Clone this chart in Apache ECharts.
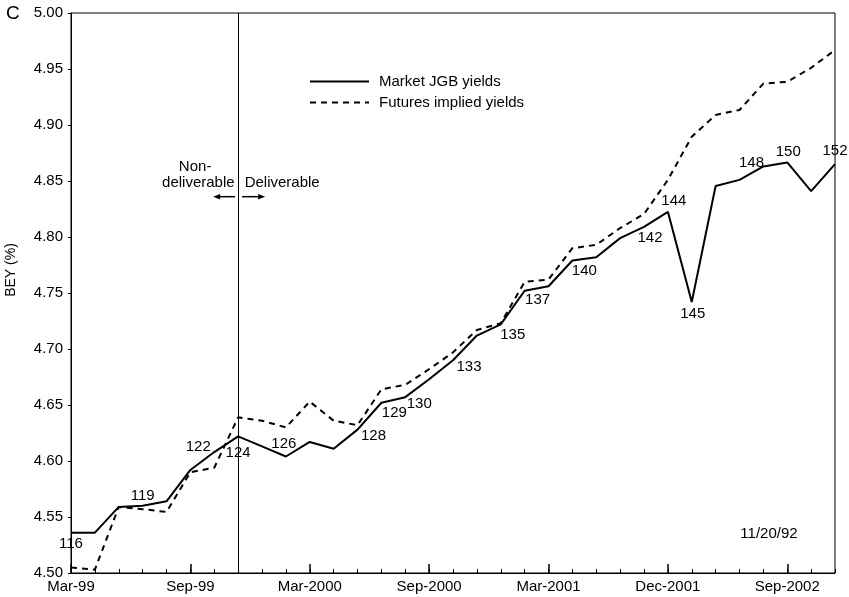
<!DOCTYPE html>
<html><head><meta charset="utf-8">
<script src="https://cdn.jsdelivr.net/npm/echarts@6/dist/echarts.min.js"></script>
<style>html,body{margin:0;padding:0;background:#fff}#c{width:849px;height:597px}</style>
</head><body><div id="c"></div>
<script>
// ---- data ----
const xLabels = ['Mar-99','','','','','Sep-99','','','','','Mar-2000','','','','','Sep-2000','','','','','Mar-2001','','','','','Dec-2001','','','','','Sep-2002','',''];
const marketYields = [4.536,4.536,4.559,4.560,4.564,4.592,4.608,4.622,4.613,4.604,4.617,4.611,4.628,4.652,4.657,4.673,4.690,4.712,4.722,4.752,4.756,4.779,4.782,4.799,4.809,4.8225,4.742,4.8455,4.851,4.863,4.8666,4.841,4.865];
const futuresYields = [4.505,4.503,4.559,4.557,4.5545,4.590,4.594,4.639,4.636,4.630,4.653,4.636,4.632,4.664,4.668,4.682,4.697,4.717,4.723,4.760,4.762,4.790,4.793,4.808,4.8205,4.851,4.8895,4.909,4.9134,4.937,4.9386,4.951,4.967];
const bondIndex = [0,3,6,7,9,12,13,14,16,18,19,21,24,25,26,28,30,32];
const bondLabels = ['116','119','122','124','126','128','129','130','133','135','137','140','142','144','145','148','150','152'];
const seriesNames = ['Market JGB yields','Futures implied yields'];
const yMin = 4.50, yMax = 5.00, yStep = 0.05;
const deliveryIndex = 7;

// ---- styles ----
const labelOffsets = [[0,11],[0,-10],[-16,-5],[0,16],[-2,-13],[16,6],[13,10],[14,7],[16,7],[12,10],[13,9],[12,10],[6,11],[6,-11],[1,12],[12,-17],[1,-11],[0,-13]];
const FONT = '"Liberation Sans", Arial, Helvetica, sans-serif';

const chart = echarts.init(document.getElementById('c'), null, {renderer:'canvas'});

const marketData = marketYields.map((v, i) => {
  const j = bondIndex.indexOf(i);
  if (j < 0) return v;
  return {
    value: v,
    label: {show: true, formatter: bondLabels[j], position: 'inside', offset: labelOffsets[j],
            color: '#000', fontSize: 15, fontFamily: FONT}
  };
});

chart.setOption({
  animation: false,
  textStyle: {fontFamily: FONT, color: '#000'},
  grid: {left: 71, right: 14, top: 13, bottom: 24, show: true, borderColor: '#000', borderWidth: 1, backgroundColor: 'transparent'},
  legend: {
    data: seriesNames, orient: 'vertical', left: 309, top: 74, padding: 0,
    itemWidth: 59, itemHeight: 15, itemGap: 6,
    textStyle: {fontSize: 15, color: '#000', fontFamily: FONT, padding: [0,0,0,5]},
    selectedMode: false
  },
  xAxis: [{
    type: 'category', data: xLabels, boundaryGap: false,
    axisLine: {lineStyle: {color: '#000', width: 1}},
    axisTick: {show: true, inside: true, length: 4, interval: 0, lineStyle: {color: '#000'}},
    axisLabel: {interval: 0, color: '#000', fontSize: 15, margin: 6, fontFamily: FONT},
    splitLine: {show: false}
  }, {
    type: 'category', data: xLabels, boundaryGap: false, position: 'bottom',
    axisLine: {show: false},
    axisTick: {show: true, inside: true, length: 9, interval: (i) => xLabels[i] !== '', lineStyle: {color: '#000', width: 1.5}},
    axisLabel: {show: false},
    splitLine: {show: false}
  }],
  yAxis: {
    type: 'value', min: yMin, max: yMax, interval: yStep,
    axisLine: {show: true, lineStyle: {color: '#000'}},
    axisTick: {show: true, length: 3, lineStyle: {color: '#000'}},
    axisLabel: {formatter: v => v.toFixed(2), color: '#000', fontSize: 15, margin: 8, fontFamily: FONT},
    splitLine: {show: false}
  },
  series: [{
    name: seriesNames[0], type: 'line', data: marketData,
    symbol: 'circle', symbolSize: 1, showSymbol: true,
    itemStyle: {color: 'rgba(0,0,0,0)'},
    lineStyle: {color: '#000', width: 2},
    emphasis: {disabled: true},
    z: 3,
    markLine: {
      silent: true, symbol: 'none', label: {show: false},
      lineStyle: {color: '#000', width: 1, type: 'solid'},
      data: [{xAxis: deliveryIndex}]
    }
  }, {
    name: seriesNames[1], type: 'line', data: futuresYields,
    symbol: 'circle', symbolSize: 1, showSymbol: true,
    itemStyle: {color: 'rgba(0,0,0,0)'},
    lineStyle: {color: '#000', width: 2, type: [6,5]},
    emphasis: {disabled: true},
    z: 2
  }]
});

// annotations positioned from the axes
const xd = chart.convertToPixel({xAxisIndex: 0}, deliveryIndex);
const ya = chart.convertToPixel({yAxisIndex: 0}, 4.836);
const arrowStyle = {stroke: '#000', lineWidth: 1.5};
chart.setOption({
  graphic: [
    {type: 'text', left: 6, top: 4, style: {text: 'C', fontSize: 19, fill: '#000', fontFamily: FONT}},
    {type: 'text', x: 11, y: 270, rotation: Math.PI/2, style: {text: 'BEY (%)', fontSize: 14, fill: '#000', fontFamily: FONT, align: 'center', verticalAlign: 'middle'}},
    {type: 'text', x: 769, y: 534, style: {text: '11/20/92', fontSize: 15, fill: '#000', fontFamily: FONT, align: 'center', verticalAlign: 'middle'}},
    {type: 'text', x: xd - 43, y: ya - 29.5, style: {text: 'Non-', fontSize: 15, fill: '#000', fontFamily: FONT, align: 'center', verticalAlign: 'middle'}},
    {type: 'text', x: xd - 3.5, y: ya - 13.5, style: {text: 'deliverable', fontSize: 15, fill: '#000', fontFamily: FONT, align: 'right', verticalAlign: 'middle'}},
    {type: 'text', x: xd + 6.5, y: ya - 13.5, style: {text: 'Deliverable', fontSize: 15, fill: '#000', fontFamily: FONT, align: 'left', verticalAlign: 'middle'}},
    {type: 'line', shape: {x1: xd - 3, y1: ya, x2: xd - 20, y2: ya}, style: arrowStyle},
    {type: 'polygon', shape: {points: [[xd - 25, ya], [xd - 18, ya - 2.8], [xd - 18, ya + 2.8]]}, style: {fill: '#000'}},
    {type: 'line', shape: {x1: xd + 4, y1: ya, x2: xd + 21, y2: ya}, style: arrowStyle},
    {type: 'polygon', shape: {points: [[xd + 27, ya], [xd + 20, ya - 2.8], [xd + 20, ya + 2.8]]}, style: {fill: '#000'}}
  ]
});
</script>
</body></html>
